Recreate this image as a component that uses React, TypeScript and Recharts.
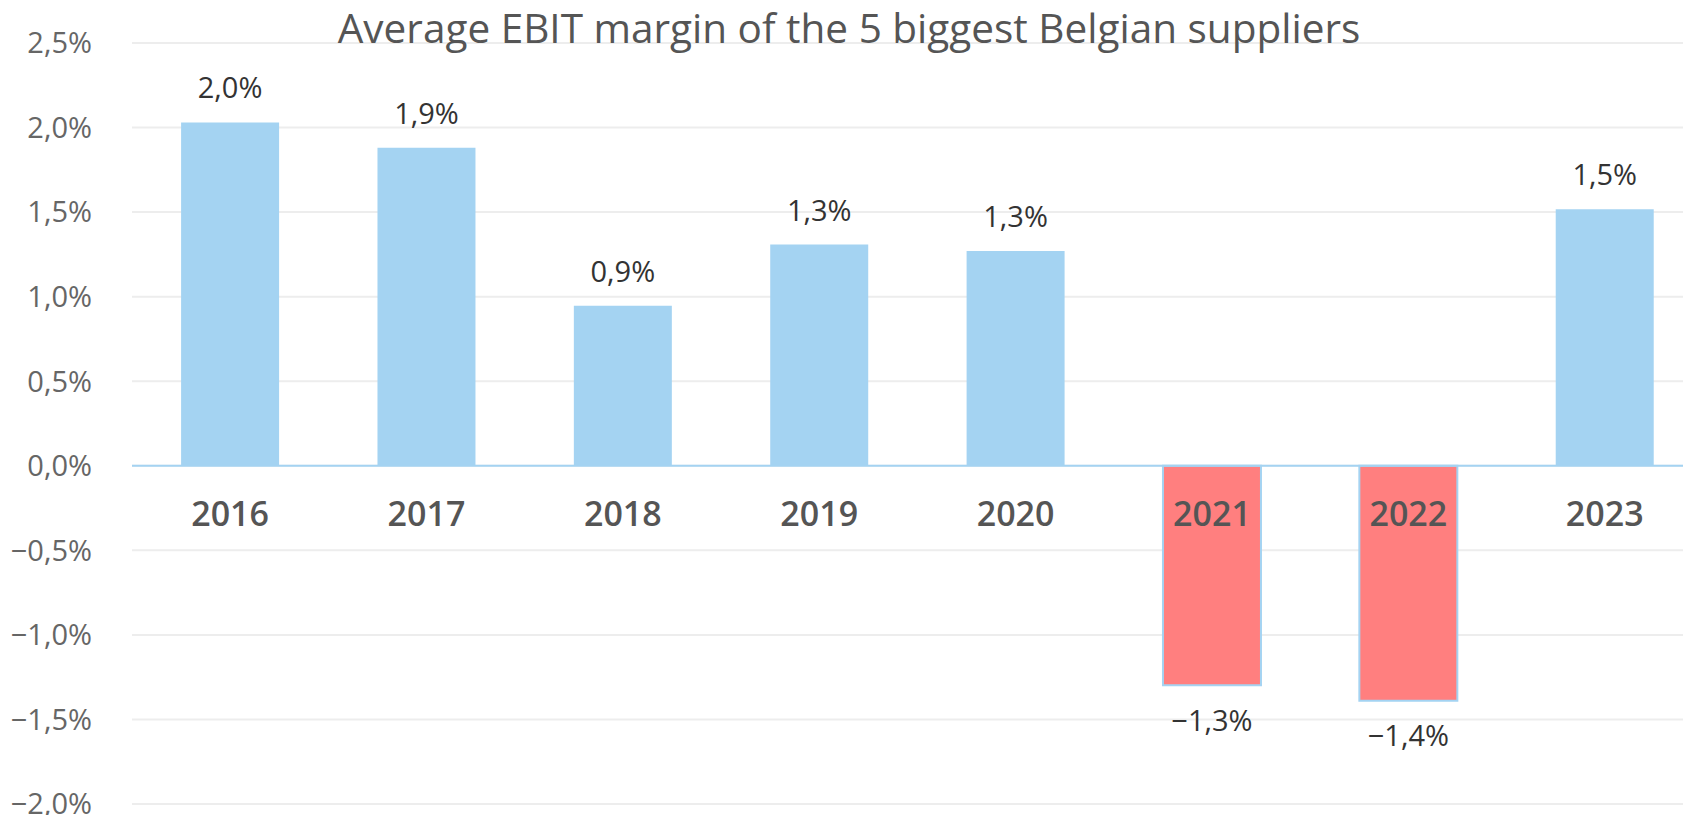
import React from 'react';
import { BarChart, Bar, XAxis, YAxis, CartesianGrid, ReferenceLine, LabelList, Cell } from 'recharts';

const years = ['2016', '2017', '2018', '2019', '2020', '2021', '2022', '2023'];
const margins = [2.03, 1.88, 0.946, 1.308, 1.27, -1.298, -1.389, 1.517];
const yTicks = [-2, -1.5, -1, -0.5, 0, 0.5, 1, 1.5, 2, 2.5];
const title = 'Average EBIT margin of the 5 biggest Belgian suppliers';

const data = years.map((y, i) => ({ year: y, value: margins[i] }));

const BLUE = '#A4D3F2';
const RED = '#FF7F7F';
const FONT = '"Open Sans", sans-serif';

const fmt = (v: number) => {
  const s = Math.abs(v).toFixed(1).replace('.', ',') + '%';
  return (v < 0 ? '\u2212' : '') + s;
};

const ValueLabel = (props: any) => {
  const { x, y, width, height, value } = props;
  const cx = x + width / 2;
  const top = Math.min(y, y + height);
  const bottom = Math.max(y, y + height);
  if (value >= 0) {
    return (
      <text x={cx} y={top - 24} textAnchor="middle" fill="#333" fontSize={29} fontFamily={FONT}>
        {fmt(value)}
      </text>
    );
  }
  return (
    <text x={cx} y={bottom + 24} dy="0.74em" textAnchor="middle" fill="#333" fontSize={29} fontFamily={FONT}>
      {fmt(value)}
    </text>
  );
};

const YearLabel = (props: any) => {
  const { x, y, width, height, value } = props;
  const cx = x + width / 2;
  const top = Math.min(y, y + height);
  const bottom = Math.max(y, y + height);
  const v = margins[years.indexOf(String(value))];
  const zero = v >= 0 ? bottom : top;
  return (
    <text x={cx} y={zero + 60} textAnchor="middle" fill="#555" fontSize={34} fontWeight={600} fontFamily={FONT}>
      {value}
    </text>
  );
};

export default function App() {
  return (
    <div style={{ position: 'fixed', left: 0, top: 0, width: 1683, height: 815, overflow: 'hidden', background: '#fff' }}>
      <BarChart
        width={1710}
        height={815}
        data={data}
        margin={{ top: 43, right: 7, bottom: 11, left: 0 }}
        barCategoryGap="25%"
      >
        <CartesianGrid vertical={false} stroke="#EDEDED" strokeWidth={2} />
        <XAxis dataKey="year" hide />
        <YAxis
          width={132}
          domain={[-2, 2.5]}
          ticks={yTicks}
          interval={0}
          axisLine={false}
          tickLine={false}
          tickFormatter={fmt}
          tick={{ fill: '#666', fontSize: 29, fontFamily: FONT }}
          tickMargin={34}
        />
        <ReferenceLine y={0} stroke={BLUE} strokeWidth={2} />
        <Bar dataKey="value" isAnimationActive={false}>
          {data.map((d, i) => (
            <Cell
              key={i}
              fill={d.value < 0 ? RED : BLUE}
              stroke={d.value < 0 ? BLUE : 'none'}
              strokeWidth={d.value < 0 ? 2 : 0}
            />
          ))}
          <LabelList dataKey="value" content={ValueLabel} />
          <LabelList dataKey="year" content={YearLabel} />
        </Bar>
      </BarChart>
      <svg width={1683} height={815} style={{ position: 'absolute', left: 0, top: 0, pointerEvents: 'none' }}>
        <text x={849} y={43} textAnchor="middle" fill="#555" fontSize={40.5} fontFamily={FONT}>
          {title}
        </text>
      </svg>
    </div>
  );
}
